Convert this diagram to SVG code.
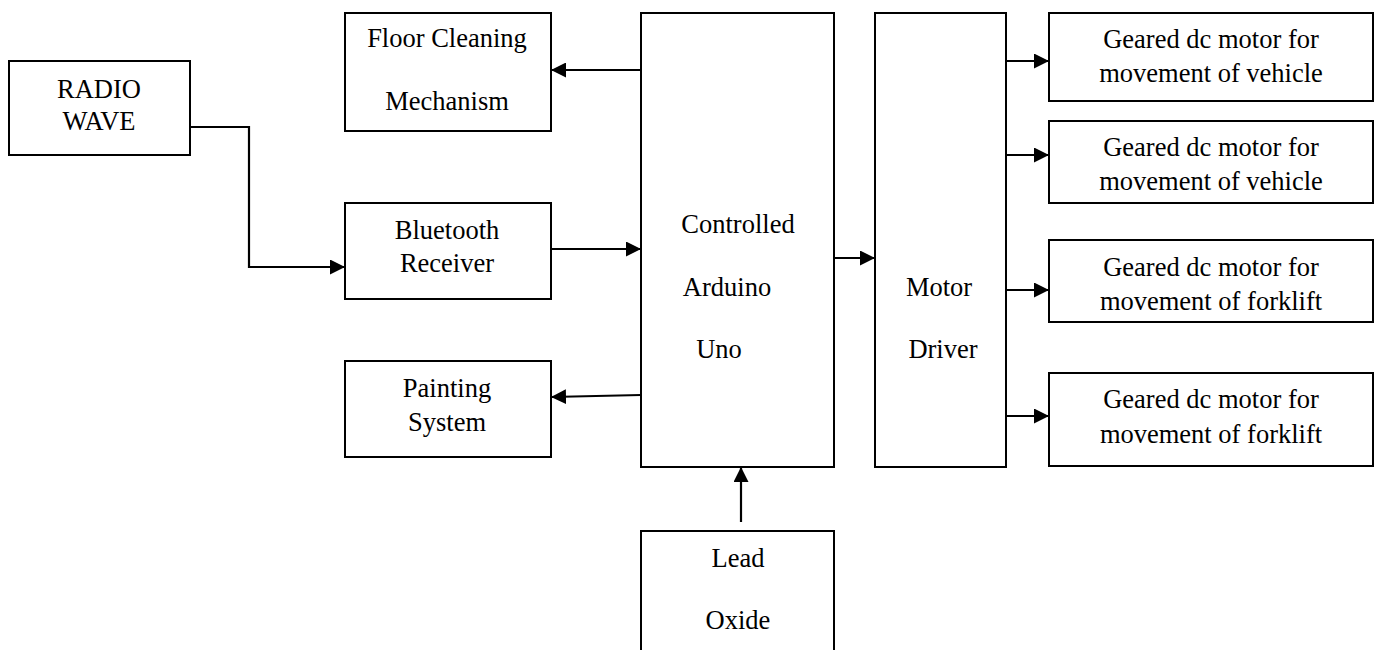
<svg xmlns="http://www.w3.org/2000/svg" width="1381" height="650" viewBox="0 0 1381 650">
  <style>
    .box { fill: #ffffff; stroke: #000000; stroke-width: 2; }
    .lbl { font-family: "Liberation Serif", "Times New Roman", serif; font-size: 26.5px; fill: #000000; text-anchor: middle; }
    .wire { fill: none; stroke: #000000; stroke-width: 2.2; marker-end: url(#arrow); }
  </style>
  <defs>
    <marker id="arrow" markerUnits="userSpaceOnUse" markerWidth="16" markerHeight="15" refX="15" refY="7.5" orient="auto">
      <path d="M0,0 L15,7.5 L0,15 Z" fill="#000000"/>
    </marker>
  </defs>
  <rect x="0" y="0" width="1381" height="650" fill="#ffffff"/>

  <g id="connectors">
    <polyline class="wire" points="190,127 249,127 249,267 345,267"/>
    <line class="wire" x1="641" y1="70" x2="551" y2="70"/>
    <line class="wire" x1="551" y1="249" x2="641" y2="249"/>
    <line class="wire" x1="641" y1="395" x2="551" y2="397"/>
    <line class="wire" x1="834" y1="258" x2="875" y2="258"/>
    <line class="wire" x1="1006" y1="61" x2="1049" y2="61"/>
    <line class="wire" x1="1006" y1="155" x2="1049" y2="155"/>
    <line class="wire" x1="1006" y1="290" x2="1049" y2="290"/>
    <line class="wire" x1="1006" y1="416" x2="1049" y2="416"/>
    <line class="wire" x1="741" y1="522" x2="741" y2="467"/>
  </g>

  <g id="radio-wave">
    <rect class="box" x="9" y="61" width="181" height="94"/>
    <text class="lbl" x="99" y="98">RADIO</text>
    <text class="lbl" x="99" y="130">WAVE</text>
  </g>

  <g id="floor-cleaning">
    <rect class="box" x="345" y="13" width="206" height="118"/>
    <text class="lbl" x="447" y="47">Floor Cleaning</text>
    <text class="lbl" x="447" y="110">Mechanism</text>
  </g>

  <g id="bluetooth-receiver">
    <rect class="box" x="345" y="203" width="206" height="96"/>
    <text class="lbl" x="447" y="239">Bluetooth</text>
    <text class="lbl" x="447" y="272">Receiver</text>
  </g>

  <g id="painting-system">
    <rect class="box" x="345" y="361" width="206" height="96"/>
    <text class="lbl" x="447" y="397">Painting</text>
    <text class="lbl" x="447" y="431">System</text>
  </g>

  <g id="controller">
    <rect class="box" x="641" y="13" width="193" height="454"/>
    <text class="lbl" x="738" y="233">Controlled</text>
    <text class="lbl" x="727" y="296">Arduino</text>
    <text class="lbl" x="719" y="358">Uno</text>
  </g>

  <g id="motor-driver">
    <rect class="box" x="875" y="13" width="131" height="454"/>
    <text class="lbl" x="939" y="296">Motor</text>
    <text class="lbl" x="943" y="358">Driver</text>
  </g>

  <g id="motor-1">
    <rect class="box" x="1049" y="13" width="324" height="88"/>
    <text class="lbl" x="1211" y="48">Geared dc motor for</text>
    <text class="lbl" x="1211" y="82">movement of vehicle</text>
  </g>

  <g id="motor-2">
    <rect class="box" x="1049" y="121" width="324" height="82"/>
    <text class="lbl" x="1211" y="156">Geared dc motor for</text>
    <text class="lbl" x="1211" y="190">movement of vehicle</text>
  </g>

  <g id="motor-3">
    <rect class="box" x="1049" y="240" width="324" height="82"/>
    <text class="lbl" x="1211" y="276">Geared dc motor for</text>
    <text class="lbl" x="1211" y="310">movement of forklift</text>
  </g>

  <g id="motor-4">
    <rect class="box" x="1049" y="373" width="324" height="93"/>
    <text class="lbl" x="1211" y="408">Geared dc motor for</text>
    <text class="lbl" x="1211" y="443">movement of forklift</text>
  </g>

  <g id="lead-oxide">
    <rect class="box" x="641" y="531" width="193" height="125"/>
    <text class="lbl" x="738" y="567">Lead</text>
    <text class="lbl" x="738" y="629">Oxide</text>
  </g>
</svg>
